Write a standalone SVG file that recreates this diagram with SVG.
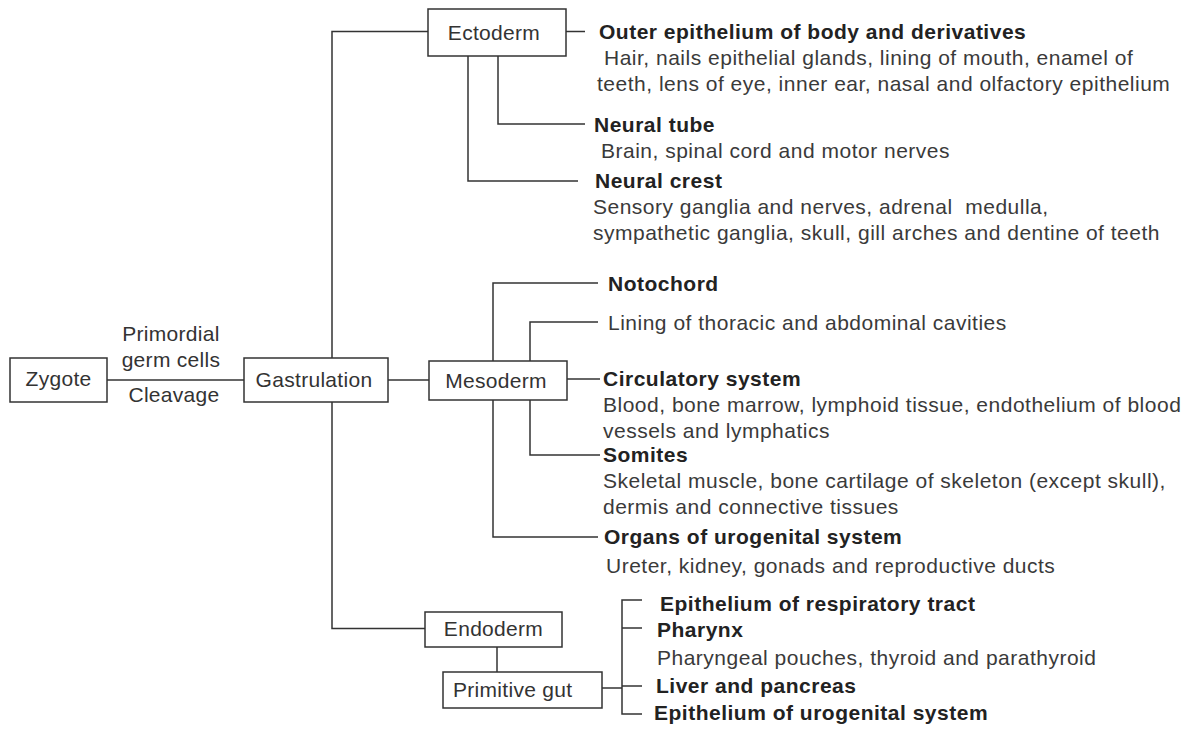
<svg xmlns="http://www.w3.org/2000/svg" width="1190" height="730" viewBox="0 0 1190 730">
<style>
  .bg{fill:#fff}
  .box{fill:#fff;stroke:#333;stroke-width:1.5}
  .ln{fill:none;stroke:#333;stroke-width:1.5}
  text{font-family:"Liberation Sans",Arial,Helvetica,sans-serif}
  .lbl{font-size:21px;fill:#333;letter-spacing:0.3px}
  .c{text-anchor:middle}
  .h{font-size:21px;font-weight:bold;fill:#222;letter-spacing:0.5px}
  .t{font-size:21px;fill:#3a3a3a;letter-spacing:0.5px}
</style>
<rect class="bg" x="0" y="0" width="1190" height="730"/>

<g id="connectors">
  <path class="ln" d="M107,380 H244"/>
  <path class="ln" d="M388,380 H429"/>
  <path class="ln" d="M428,31.5 H332 V358"/>
  <path class="ln" d="M332,402 V628.5 H425"/>
  <path class="ln" d="M566,31.5 H585"/>
  <path class="ln" d="M498,56 V124 H585"/>
  <path class="ln" d="M468,56 V181 H578"/>
  <path class="ln" d="M493,361 V283 H598"/>
  <path class="ln" d="M530,361 V322 H598"/>
  <path class="ln" d="M567,379 H600"/>
  <path class="ln" d="M530,400 V455 H600"/>
  <path class="ln" d="M493,400 V537 H598"/>
  <path class="ln" d="M497,647 V672"/>
  <path class="ln" d="M602,688 H622"/>
  <path class="ln" d="M642,600 H622 V714 H642"/>
  <path class="ln" d="M622,628 H642"/>
  <path class="ln" d="M622,686 H642"/>
</g>

<g id="zygote">
  <rect class="box" x="10" y="358" width="97" height="44"/>
  <text class="lbl c" x="58.5" y="386">Zygote</text>
</g>
<g id="cleavage-labels">
  <text class="lbl c" x="171" y="341">Primordial</text>
  <text class="lbl c" x="171" y="367">germ cells</text>
  <text class="lbl c" x="174" y="402">Cleavage</text>
</g>
<g id="gastrulation">
  <rect class="box" x="244" y="358" width="144" height="44"/>
  <text class="lbl c" x="314" y="387">Gastrulation</text>
</g>

<g id="ectoderm">
  <rect class="box" x="428" y="9" width="138" height="47"/>
  <text class="lbl c" x="494" y="39.5">Ectoderm</text>
</g>
<g id="outer-epithelium">
  <text class="h" x="599" y="39">Outer epithelium of body and derivatives</text>
  <text class="t" x="604" y="65">Hair, nails epithelial glands, lining of mouth, enamel of</text>
  <text class="t" x="597" y="91">teeth, lens of eye, inner ear, nasal and olfactory epithelium</text>
</g>
<g id="neural-tube">
  <text class="h" x="594" y="131.5">Neural tube</text>
  <text class="t" x="601" y="157.5">Brain, spinal cord and motor nerves</text>
</g>
<g id="neural-crest">
  <text class="h" x="595" y="188">Neural crest</text>
  <text class="t" x="593" y="214" xml:space="preserve">Sensory ganglia and nerves, adrenal  medulla,</text>
  <text class="t" x="593" y="240">sympathetic ganglia, skull, gill arches and dentine of teeth</text>
</g>

<g id="mesoderm">
  <rect class="box" x="429" y="361" width="138" height="39"/>
  <text class="lbl c" x="496" y="388">Mesoderm</text>
</g>
<g id="notochord">
  <text class="h" x="608" y="291">Notochord</text>
</g>
<g id="lining">
  <text class="t" x="608" y="330">Lining of thoracic and abdominal cavities</text>
</g>
<g id="circulatory">
  <text class="h" x="603" y="386">Circulatory system</text>
  <text class="t" x="603" y="412">Blood, bone marrow, lymphoid tissue, endothelium of blood</text>
  <text class="t" x="603" y="438">vessels and lymphatics</text>
</g>
<g id="somites">
  <text class="h" x="603" y="462">Somites</text>
  <text class="t" x="603" y="488">Skeletal muscle, bone cartilage of skeleton (except skull),</text>
  <text class="t" x="603" y="514">dermis and connective tissues</text>
</g>
<g id="urogenital-organs">
  <text class="h" x="604" y="544">Organs of urogenital system</text>
  <text class="t" x="606" y="573">Ureter, kidney, gonads and reproductive ducts</text>
</g>

<g id="endoderm">
  <rect class="box" x="425" y="612" width="137" height="35"/>
  <text class="lbl c" x="493.5" y="636">Endoderm</text>
</g>
<g id="primitive-gut">
  <rect class="box" x="443" y="672" width="159" height="36"/>
  <text class="lbl" x="453" y="697">Primitive gut</text>
</g>
<g id="respiratory">
  <text class="h" x="660" y="611">Epithelium of respiratory tract</text>
</g>
<g id="pharynx">
  <text class="h" x="657" y="637">Pharynx</text>
  <text class="t" x="657" y="665">Pharyngeal pouches, thyroid and parathyroid</text>
</g>
<g id="liver">
  <text class="h" x="656" y="693">Liver and pancreas</text>
</g>
<g id="urogenital-epithelium">
  <text class="h" x="654" y="720">Epithelium of urogenital system</text>
</g>
</svg>
